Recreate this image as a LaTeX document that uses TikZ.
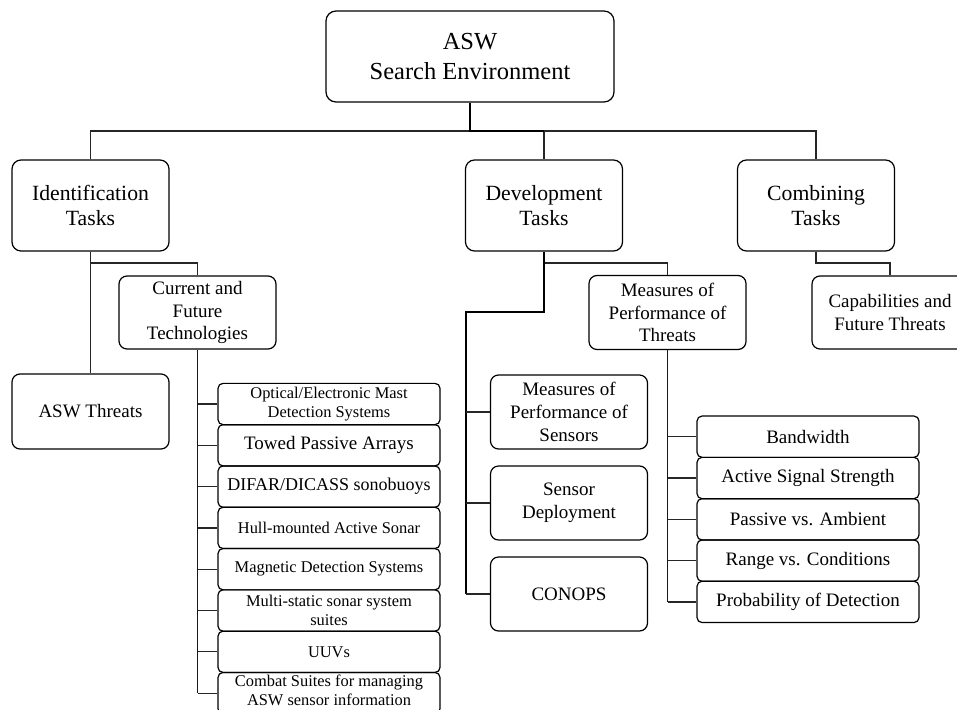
\documentclass[tikz,border=0pt]{standalone}
\usepackage{fontspec}
\setmainfont{Liberation Serif}
\usetikzlibrary{calc}
\tikzset{
	rootbox/.style={draw, line width=1.2pt, rounded corners=10pt, align=center, inner sep=0pt, minimum width=288pt, minimum height=91pt, font=\fontsize{24.5}{29.3}\selectfont},
	taskbox/.style={draw, line width=1.2pt, rounded corners=9pt, align=center, inner sep=0pt, minimum width=157pt, minimum height=91pt, font=\fontsize{21.7}{25}\selectfont},
	subbox/.style={draw, line width=1.2pt, rounded corners=8pt, align=center, inner sep=0pt, minimum width=157pt, minimum height=74pt, font=\fontsize{19}{22.7}\selectfont},
	itembox/.style={draw, line width=1.2pt, rounded corners=5pt, align=center, inner sep=0pt, minimum width=222pt, minimum height=41.3pt, font=\fontsize{19}{22.7}\selectfont},
	smalltext/.style={font=\fontsize{16.4}{19}\selectfont},
	link/.style={line width=1.2pt, color=black!85},
	spine/.style={line width=1.8pt, color=black!90},
	mainlink/.style={line width=2.4pt},
}

\begin{document}
\begin{tikzpicture}[x=1pt, y=-1pt]
	%%%%% START %%%%%
	\useasboundingbox (0,0) rectangle (957,709);
	\clip (0,0) rectangle (957,709);
	
	\node[rootbox] (root) at (470,56.5) {ASW\\Search Environment};
	
	\node[taskbox] (ident) at (90.5,205.5) {Identification\\Tasks};
	\node[taskbox] (devel) at (544,205.5) {Development\\Tasks};
	\node[taskbox] (comb) at (816,205.5) {Combining\\Tasks};
	
	\coordinate (bar) at (470,131);
	\draw[link] (ident.north) |- (bar) -| (comb.north);
	\draw[link] (bar) -| (devel.north);
	\draw[mainlink] (root.south) -- (bar) -- (devel.north |- bar);
	
	% identification side
	\node[subbox, minimum height=73pt] (tech) at (197.5,312.5) {Current and\\Future\\Technologies};
	\node[subbox, minimum height=75pt] (threats) at (90.5,411.5) {ASW Threats};
	\coordinate (identfork) at (90.5,263);
	\draw[link] (ident.south) -- (threats.north);
	\draw[link] (identfork) -| (tech.north);
	
	\node[itembox, smalltext] (optical) at (329,404) {Optical/Electronic Mast\\Detection Systems};
	\node[itembox] (towed) at (329,445.3) {Towed Passive Arrays};
	\node[itembox, font=\fontsize{18}{21}\selectfont] (difar) at (329,486.6) {DIFAR/DICASS sonobuoys};
	\node[itembox, smalltext] (hull) at (329,527.9) {Hull-mounted Active Sonar};
	\node[itembox, smalltext] (magnetic) at (329,569.2) {Magnetic Detection Systems};
	\node[itembox, smalltext] (multi) at (329,610.5) {Multi-static sonar system\\suites};
	\node[itembox, smalltext] (uuv) at (329,651.8) {UUVs};
	\node[itembox, smalltext] (combat) at (329,693.1) {};
	\node[smalltext, align=center, inner sep=0pt] (combattext) at (329,690.5) {Combat Suites for managing\\ASW sensor information};
	
	\draw[spine] (tech.south) -- (tech.south |- combat.west);
	\draw[link] (tech.south |- optical.west) -- (optical.west);
	\draw[link] (tech.south |- towed.west) -- (towed.west);
	\draw[link] (tech.south |- difar.west) -- (difar.west);
	\draw[link] (tech.south |- hull.west) -- (hull.west);
	\draw[link] (tech.south |- magnetic.west) -- (magnetic.west);
	\draw[link] (tech.south |- multi.west) -- (multi.west);
	\draw[link] (tech.south |- uuv.west) -- (uuv.west);
	\draw[link] (tech.south |- combat.west) -- (combat.west);
	
	% development side
	\node[subbox] (mopt) at (667.5,312.5) {Measures of\\Performance of\\Threats};
	\node[subbox] (mops) at (569,412) {Measures of\\Performance of\\Sensors};
	\node[subbox] (deploy) at (569,503) {Sensor\\Deployment};
	\node[subbox] (conops) at (569,594) {CONOPS};
	
	\coordinate (develfork) at (544,263);
	\coordinate (develturn) at (544,312);
	\coordinate (develspine) at (466,312);
	\draw[link] (develfork) -| (mopt.north);
	\draw[mainlink] (devel.south) -- (develturn) -- (develspine) -- (develspine |- conops.west);
	\draw[link] (develspine |- mops.west) -- (mops.west);
	\draw[link] (develspine |- deploy.west) -- (deploy.west);
	\draw[link] (develspine |- conops.west) -- (conops.west);
	
	\node[itembox] (band) at (808,436.7) {Bandwidth};
	\node[itembox] (active) at (808,478) {Active Signal Strength};
	\node[itembox] (passive) at (808,519.3) {Passive vs. Ambient};
	\node[itembox] (range) at (808,560.6) {Range vs. Conditions};
	\node[itembox] (pdet) at (808,601.9) {Probability of Detection};
	
	\draw[spine] (mopt.south) -- (mopt.south |- pdet.west);
	\draw[link] (mopt.south |- band.west) -- (band.west);
	\draw[link] (mopt.south |- active.west) -- (active.west);
	\draw[link] (mopt.south |- passive.west) -- (passive.west);
	\draw[link] (mopt.south |- range.west) -- (range.west);
	\draw[link] (mopt.south |- pdet.west) -- (pdet.west);
	
	% combining side
	\node[subbox, minimum width=156pt, minimum height=73pt] (capab) at (890,312.5) {Capabilities and\\Future Threats};
	\coordinate (combfork) at (816,263);
	\draw[link] (comb.south) -- (combfork) -| (capab.north);
	
	%%%%% END %%%%%
\end{tikzpicture}
\end{document}
